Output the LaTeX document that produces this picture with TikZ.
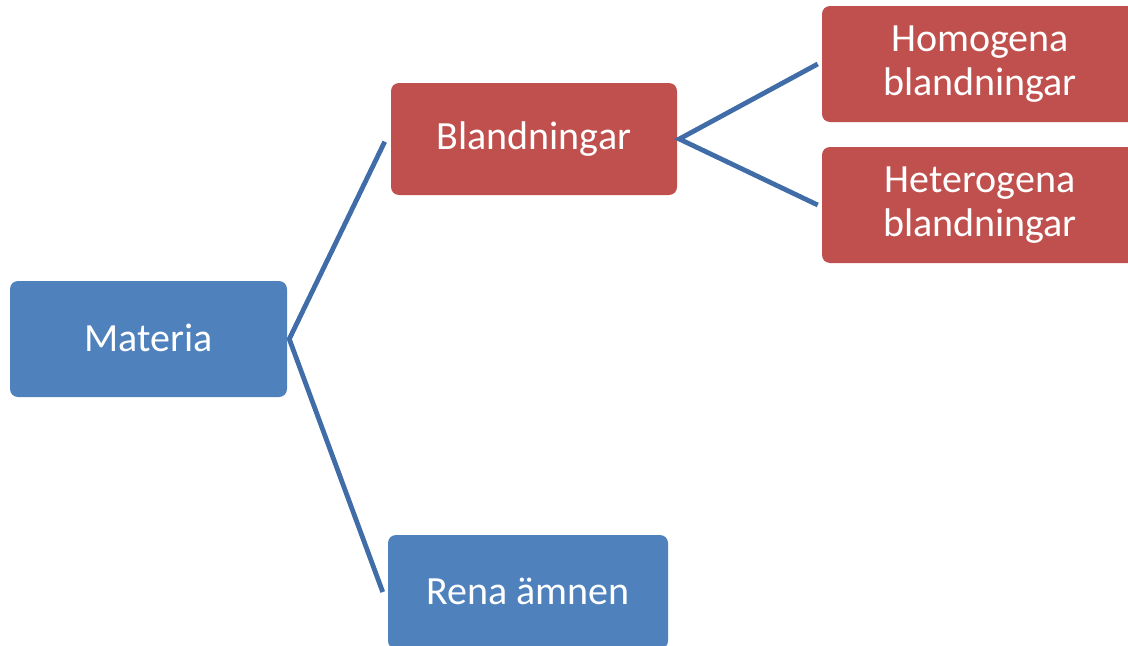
\documentclass[tikz,border=0pt]{standalone}
\usepackage{fontspec}
\setmainfont{Carlito}
\definecolor{boxblue}{HTML}{4F81BD}
\definecolor{boxred}{HTML}{C0504D}
\definecolor{linkblue}{RGB}{64,108,168}
\begin{document}
\begin{tikzpicture}[x=0.75pt,y=-0.75pt,
  card/.style={rectangle, rounded corners=6pt, text=white, align=center,
    inner sep=0pt, font=\fontsize{30pt}{33pt}\selectfont},
  bluecard/.style={card, fill=boxblue},
  redcard/.style={card, fill=boxred},
  link/.style={draw=linkblue, line width=3.6pt, line join=miter}]
\useasboundingbox (0,0) rectangle (1128,646);
\clip (0,0) rectangle (1128,646);

% left column
\node[bluecard, minimum width=207.75pt, minimum height=87pt] (mat) at (148.5,339) {\raisebox{1.5pt}{Materia}};

% middle column
\node[redcard, minimum width=214.5pt, minimum height=84pt] (bla) at (534,139) {\raisebox{1.5pt}{Blandningar}};
\node[bluecard, minimum width=210pt, minimum height=85.5pt] (ren) at (528,592) {\raisebox{1.5pt}{Rena ämnen}};

% right column (boxes run past the right edge)
\node[redcard, minimum width=237pt, minimum height=87pt] (hom) at (980,64) {Homogena\\blandningar};
\node[redcard, minimum width=237pt, minimum height=87pt] (het) at (980,205) {Heterogena\\blandningar};

% branches
\draw[link] ([xshift=-4.5pt,yshift=-2pt]bla.west) -- ([xshift=1.5pt]mat.east) -- ([xshift=-3.75pt]ren.west);
\draw[link] ([xshift=-3pt]hom.west) -- ([xshift=1.5pt]bla.east) -- ([xshift=-3pt]het.west);
\end{tikzpicture}
\end{document}
